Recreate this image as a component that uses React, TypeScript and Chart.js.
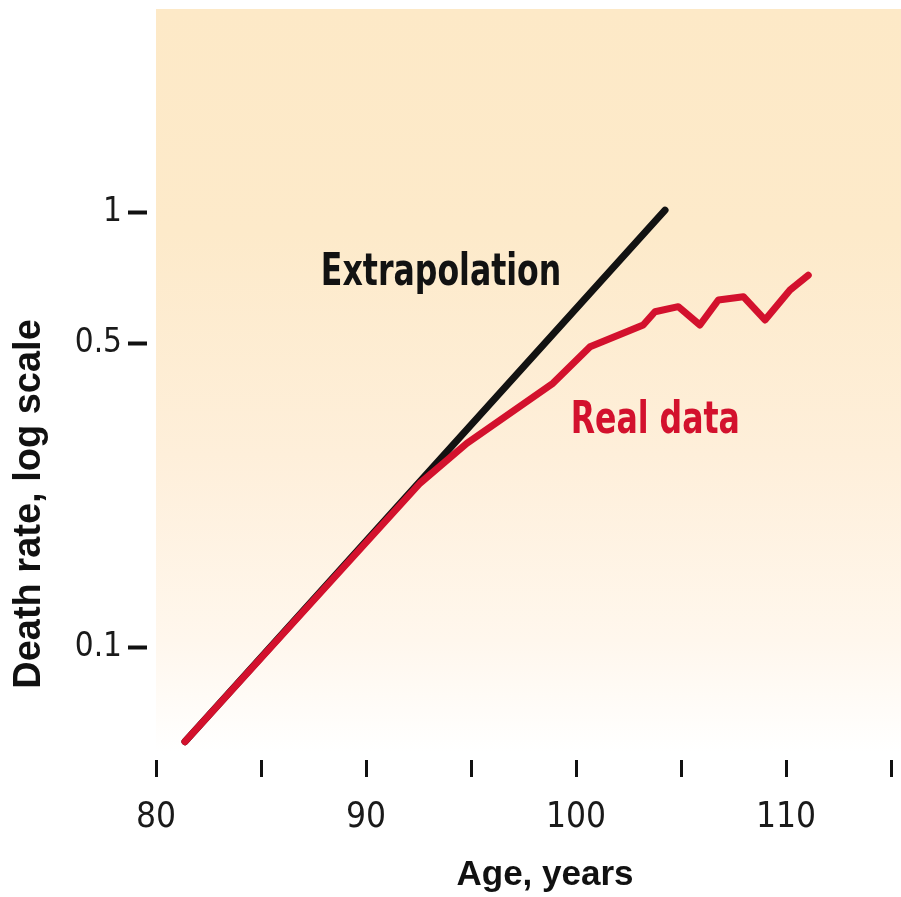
import React, { useEffect, useRef } from "react";
import { Chart, registerables } from "chart.js";

Chart.register(...registerables);

// ---- data ----
const realAges = [81.38, 92.57, 94.8, 98.9, 100.67, 103.2, 103.76, 104.87, 105.9, 106.78, 107.97, 109.0, 110.19, 111.06];
const realRates = [0.0606, 0.238, 0.294, 0.404, 0.49, 0.55, 0.59, 0.606, 0.55, 0.628, 0.639, 0.565, 0.662, 0.716];
const extrapolationAges = [81.38, 104.24];
const extrapolationRates = [0.0606, 1.01];

const xTickValues = [80, 85, 90, 95, 100, 105, 110, 115];
const xTickLabels = ["80", "", "90", "", "100", "", "110", ""];
const yTickValues = [0.1, 0.5, 1];
const yTickLabels = ["0.1", "0.5", "1"];

const xTitle = "Age, years";
const yTitle = "Death rate, log scale";
const extrapolationLabel = "Extrapolation";
const realLabel = "Real data";
// label anchors in data units [age, rate]
const extrapolationLabelAt = [87.85, 0.68];
const realLabelAt = [99.75, 0.31];

const RED = "#d3112d";
const BLACK = "#121212";
const NARROW = '"Liberation Sans Narrow", "DejaVu Sans Condensed", "Liberation Sans", sans-serif';
const WIDE = '"Liberation Sans", Arial, sans-serif';

const backgroundPlugin = {
  id: "bgGradient",
  beforeDraw(chart: any) {
    const { ctx, chartArea, width, height } = chart;
    ctx.save();
    ctx.fillStyle = "#ffffff";
    ctx.fillRect(0, 0, width, height);
    const bottom = chartArea.bottom - 8;
    const g = ctx.createLinearGradient(0, chartArea.top, 0, bottom);
    g.addColorStop(0, "#fde9c7");
    g.addColorStop(0.3, "#fdeaca");
    g.addColorStop(0.6, "#feefda");
    g.addColorStop(0.85, "#fff7ed");
    g.addColorStop(1, "#ffffff");
    ctx.fillStyle = g;
    ctx.fillRect(chartArea.left, chartArea.top, width - chartArea.left, bottom - chartArea.top);
    ctx.restore();
  },
};

function narrowText(ctx: any, text: string, x: number, y: number) {
  ctx.save();
  ctx.translate(x, y);
  ctx.scale(0.78, 1);
  ctx.fillText(text, 0, 0);
  ctx.restore();
}

const textPlugin = {
  id: "texts",
  afterDraw(chart: any) {
    const { ctx, chartArea, scales } = chart;
    const x = scales.x;
    const y = scales.y;
    ctx.save();
    // annotations
    ctx.font = `bold 45px ${NARROW}`;
    ctx.textAlign = "left";
    ctx.textBaseline = "alphabetic";
    ctx.fillStyle = BLACK;
    narrowText(ctx, extrapolationLabel, x.getPixelForValue(extrapolationLabelAt[0]), y.getPixelForValue(extrapolationLabelAt[1]));
    ctx.fillStyle = RED;
    narrowText(ctx, realLabel, x.getPixelForValue(realLabelAt[0]), y.getPixelForValue(realLabelAt[1]));

    // axis titles
    ctx.fillStyle = "#111111";
    ctx.font = `bold 35px ${WIDE}`;
    ctx.textAlign = "center";
    ctx.fillText(xTitle, chartArea.left + 389, chartArea.bottom + 125);
    ctx.font = `bold 38px ${WIDE}`;
    ctx.translate(chartArea.left - 116, chartArea.top + 495);
    ctx.rotate(-Math.PI / 2);
    ctx.fillText(yTitle, 0, 0);
    ctx.restore();
  },
};

function zeroPadding(scale: any) {
  scale.paddingTop = 0;
  scale.paddingBottom = 0;
  scale.paddingLeft = 0;
  scale.paddingRight = 0;
}

export default function App() {
  const ref = useRef<HTMLCanvasElement | null>(null);

  useEffect(() => {
    document.body.style.margin = "0";
    const canvas = ref.current;
    if (!canvas) return;
    const chart = new Chart(canvas, {
      type: "line",
      data: {
        datasets: [
          {
            label: realLabel,
            data: realAges.map((a, i) => ({ x: a, y: realRates[i] })),
            borderColor: RED,
            borderWidth: 7,
            borderCapStyle: "round",
            borderJoinStyle: "round",
            pointRadius: 0,
            tension: 0,
            fill: false,
          },
          {
            label: extrapolationLabel,
            data: extrapolationAges.map((a, i) => ({ x: a, y: extrapolationRates[i] })),
            borderColor: BLACK,
            borderWidth: 7,
            borderCapStyle: "round",
            borderJoinStyle: "round",
            pointRadius: 0,
            tension: 0,
            fill: false,
          },
        ],
      },
      options: {
        responsive: false,
        animation: false,
        layout: { padding: { top: 9, right: 10, left: 0, bottom: 0 } },
        plugins: { legend: { display: false }, tooltip: { enabled: false } },
        scales: {
          x: {
            type: "linear",
            min: 80,
            max: 115,
            afterBuildTicks: (scale: any) => {
              scale.ticks = xTickValues.map((v) => ({ value: v }));
            },
            afterFit: (scale: any) => {
              scale.height = 137;
              zeroPadding(scale);
            },
            border: { display: false },
            grid: {
              display: true,
              drawOnChartArea: false,
              drawTicks: true,
              tickLength: 17,
              tickWidth: 3,
              tickColor: "#111111",
            },
            ticks: {
              autoSkip: false,
              maxRotation: 0,
              padding: 20,
              color: "#1a1a1a",
              font: { family: NARROW, size: 35 },
              callback: (_v: any, i: number) => xTickLabels[i],
            },
          },
          y: {
            type: "logarithmic",
            min: 0.055,
            max: 2.93,
            afterBuildTicks: (scale: any) => {
              scale.ticks = yTickValues.map((v) => ({ value: v }));
            },
            afterFit: (scale: any) => {
              scale.width = 156;
              zeroPadding(scale);
            },
            border: { display: false },
            grid: {
              display: true,
              drawOnChartArea: false,
              drawTicks: true,
              tickLength: 28,
              tickWidth: 4,
              tickColor: "#111111",
              tickBorderDash: [19, 60],
            },
            ticks: {
              autoSkip: false,
              padding: 6,
              color: "#1a1a1a",
              font: { family: NARROW, size: 33 },
              callback: (_v: any, i: number) => yTickLabels[i],
            },
          },
        },
      },
      plugins: [backgroundPlugin, textPlugin],
    } as any);
    return () => chart.destroy();
  }, []);

  return (
    <div style={{ position: "absolute", left: 0, top: 0, width: 901, height: 897 }}>
      <canvas ref={ref} width={901} height={897} style={{ display: "block" }} />
    </div>
  );
}
